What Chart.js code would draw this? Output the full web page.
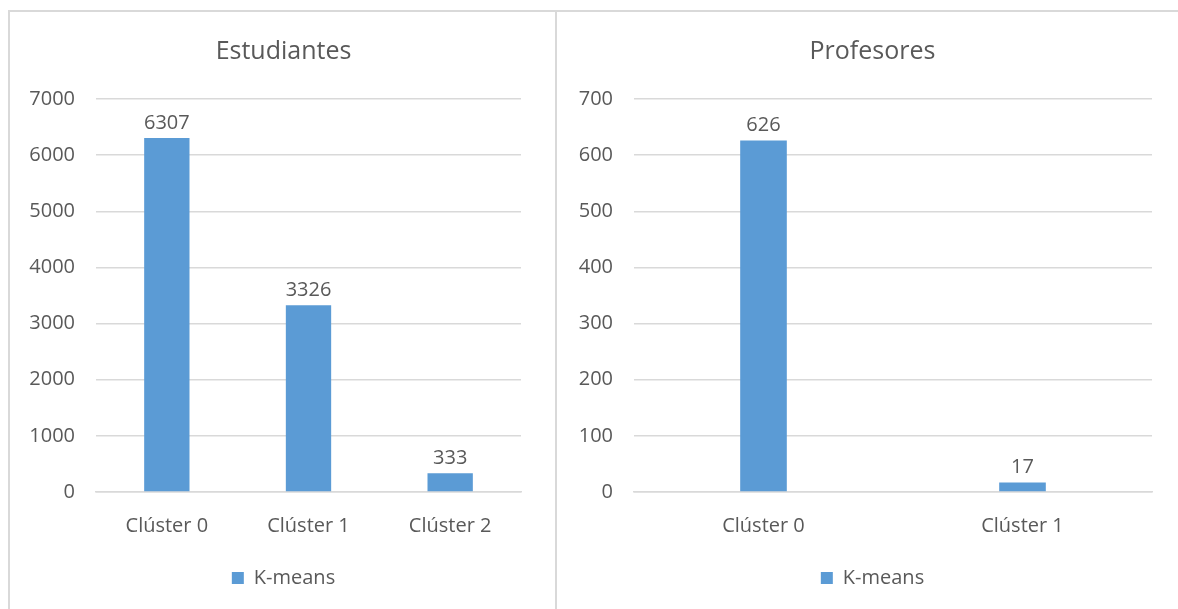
<!DOCTYPE html>
<html>
<head>
<meta charset="utf-8">
<script src="https://cdn.jsdelivr.net/npm/chart.js@4.4.1/dist/chart.umd.min.js"></script>
<style>
    html, body { margin: 0; padding: 0; background: #ffffff; overflow: hidden; }
    body { width: 1178px; height: 609px; position: relative; }
    .panel { position: absolute; box-sizing: border-box; border: 2px solid #d9d9d9; border-bottom: none; }
    #panelLeft { left: 8px; top: 10px; width: 549px; height: 620px; }
    #panelRight { left: 555px; top: 10px; width: 640px; height: 620px; }
    canvas { position: absolute; }
    #studentsChart { left: 10px; top: 12px; }
    #teachersChart { left: 557px; top: 12px; }
</style>
</head>
<body>
<div class="panel" id="panelLeft"></div>
<div class="panel" id="panelRight"></div>
<canvas id="studentsChart" width="543" height="597"></canvas>
<canvas id="teachersChart" width="621" height="597"></canvas>
<script>
const studentLabels = ["Clúster 0", "Clúster 1", "Clúster 2"];
const studentValues = [6307, 3326, 333];
const teacherLabels = ["Clúster 0", "Clúster 1"];
const teacherValues = [626, 17];
const seriesName = "K-means";

const FONT = "'Open Sans', 'Liberation Sans', sans-serif";
const TEXT_COLOR = "#595959";
const BAR_COLOR = "#5b9bd5";
const GRID_COLOR = "#d9d9d9";
const TEXT_SIZE = 20;

Chart.defaults.font.family = FONT;
Chart.defaults.color = TEXT_COLOR;

// dibuja el valor encima de cada barra
const valueLabels = {
    id: "valueLabels",
    afterDatasetsDraw: (chart) => {
        const {ctx} = chart;
        const meta = chart.getDatasetMeta(0);
        const values = chart.data.datasets[0].data;
        ctx.save();
        ctx.font = TEXT_SIZE + "px " + FONT;
        ctx.fillStyle = TEXT_COLOR;
        ctx.textAlign = "center";
        ctx.textBaseline = "middle";
        meta.data.forEach((bar, i) => {
            ctx.fillText(values[i], bar.x, bar.y - 15);
        });
        ctx.restore();
    },
};

// centra título y leyenda sobre todo el panel, no solo sobre el área útil
const centerBlocks = {
    id: "centerBlocks",
    afterLayout: (chart) => {
        const shift = chart.options.plugins.centerBlocks.shift;
        [chart.titleBlock, chart.legend].forEach((box) => {
            if (box) {
                box.left += shift;
                box.right += shift;
            }
        });
    },
};

const generateChart = (id, title, labels, values, max, step, barPct, axisWidth, rightPad) => {
    const ctx = document.getElementById(id).getContext("2d");
    return new Chart(ctx, {
        type: "bar",
        data: {
            labels: labels,
            datasets: [{
                label: seriesName,
                data: values,
                backgroundColor: BAR_COLOR,
                borderWidth: 0,
                categoryPercentage: 1,
                barPercentage: barPct,
            }]
        },
        plugins: [valueLabels, centerBlocks],
        options: {
            responsive: false,
            animation: false,
            layout: {
                padding: {left: 0, right: rightPad, top: 0, bottom: 11},
            },
            plugins: {
                centerBlocks: {shift: 18},
                title: {
                    display: true,
                    text: title,
                    color: TEXT_COLOR,
                    font: {size: 25, weight: "normal"},
                    padding: {top: 25, bottom: 32},
                },
                legend: {
                    display: true,
                    position: "bottom",
                    labels: {
                        boxWidth: 12,
                        boxHeight: 12,
                        font: {size: TEXT_SIZE},
                        color: TEXT_COLOR,
                        padding: 10,
                    },
                },
                tooltip: {enabled: false},
            },
            scales: {
                x: {
                    grid: {display: false},
                    border: {color: GRID_COLOR, width: 1.5},
                    ticks: {font: {size: TEXT_SIZE}, color: TEXT_COLOR, padding: 14},
                    afterFit: (scale) => { scale.height = 66; },
                },
                y: {
                    min: 0,
                    max: max,
                    ticks: {
                        stepSize: step,
                        font: {size: TEXT_SIZE},
                        color: TEXT_COLOR,
                        padding: 21,
                        callback: (value) => String(value),
                    },
                    grid: {color: GRID_COLOR, lineWidth: 1.5, drawTicks: false},
                    border: {display: false},
                    afterFit: (scale) => { scale.width = axisWidth; },
                },
            },
        },
    });
}

generateChart("studentsChart", "Estudiantes", studentLabels, studentValues, 7000, 1000, 0.32, 86, 32);
generateChart("teachersChart", "Profesores", teacherLabels, teacherValues, 700, 100, 0.18, 77, 26);
</script>
</body>
</html>
